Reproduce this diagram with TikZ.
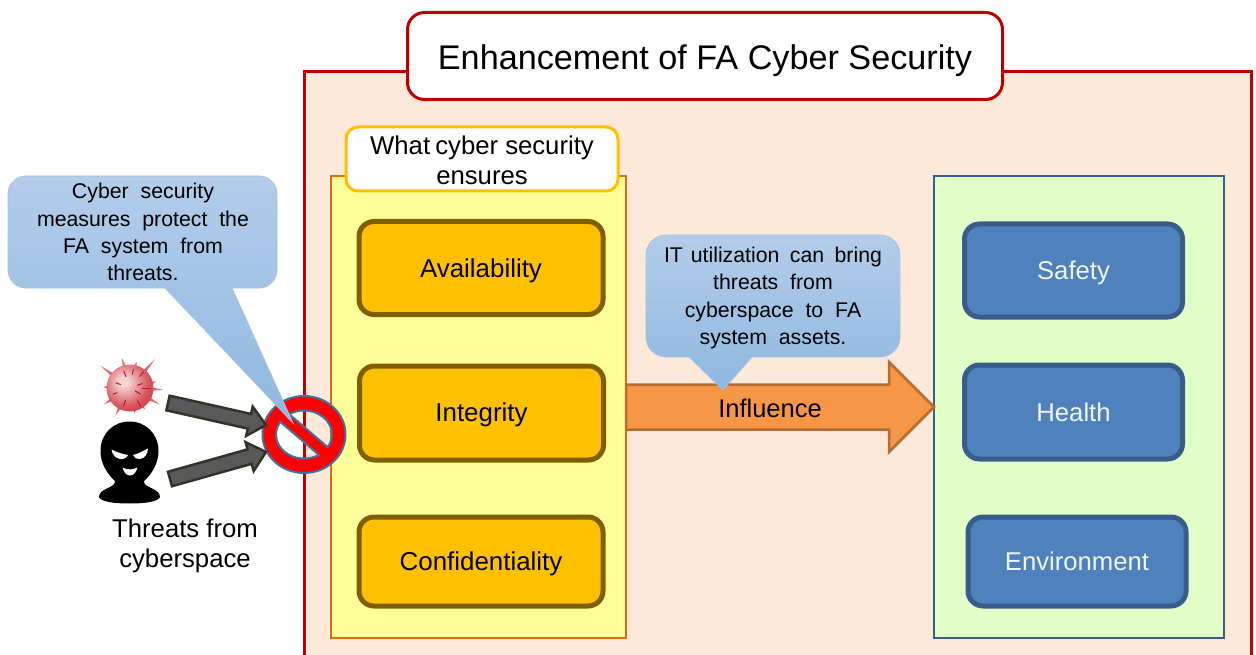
\documentclass[tikz,border=0pt]{standalone}
\usepackage{fontspec}
\setmainfont{Liberation Sans}
\newfontfamily\widefont[WordSpace=2.0]{Liberation Sans}
\usetikzlibrary{calc,shapes.geometric}
\newcommand\nudgetext[2]{\raisebox{-#1}[\height][\depth]{#2}}
\definecolor{framered}{HTML}{C00000}
\definecolor{peach}{HTML}{FDE9D9}
\definecolor{panelyellow}{HTML}{FFFF99}
\definecolor{panelorange}{HTML}{E36C0A}
\definecolor{gold}{HTML}{FFC000}
\definecolor{golddark}{HTML}{7F6000}
\definecolor{panelgreen}{HTML}{E3FFC8}
\definecolor{panelblue}{HTML}{376092}
\definecolor{boxblue}{HTML}{4F81BD}
\definecolor{boxbluedark}{HTML}{385D8A}
\definecolor{arroworange}{HTML}{F79646}
\definecolor{arroworangedark}{HTML}{B66D31}
\definecolor{calloutlight}{HTML}{B3CDEA}
\definecolor{calloutdark}{HTML}{8FB7E0}
\definecolor{calloutline}{HTML}{A5C2E4}
\definecolor{nogo}{HTML}{FF0000}
\definecolor{nogoline}{HTML}{41719C}
\definecolor{threatfill}{HTML}{595959}
\definecolor{threatline}{HTML}{33332A}
\definecolor{virusred}{HTML}{CC2430}
\definecolor{viruslight}{HTML}{F6D4D4}
\definecolor{spike}{HTML}{DC6A72}
\pgfdeclareradialshading{virusball}{\pgfpoint{-7bp}{7bp}}{color(0bp)=(viruslight);color(5bp)=(viruslight);color(24bp)=(virusred!70!viruslight);color(42bp)=(virusred);color(100bp)=(virusred)}
\tikzset{
  x=1pt,y=-1pt,
  every node/.style={inner sep=0pt,outer sep=0pt},
  titlebox/.style={draw=framered,line width=3pt,fill=white,rounded corners=17pt,minimum width=595pt,minimum height=87pt,font=\fontsize{34.2}{40}\selectfont},
  whatbox/.style={draw=gold,line width=3pt,fill=white,rounded corners=12pt,minimum width=272pt,minimum height=64pt},
  goldbox/.style={draw=golddark,line width=5pt,fill=gold,rounded corners=15pt,minimum width=244pt,font=\fontsize{25.9}{30}\selectfont},
  bluebox/.style={draw=boxbluedark,line width=5pt,fill=boxblue,rounded corners=15pt,minimum width=218pt,text=white!92!boxblue,font=\fontsize{25.7}{30}\selectfont},
  panelbox/.style={line width=2.5pt,minimum height=462pt},
  bodytext/.style={align=center,font=\fontsize{25.7}{30.5}\selectfont},
  callouttext/.style={align=center,font=\fontsize{21.3}{27.2}\selectfont\widefont},
  calloutshape/.style={draw=calloutline,line width=0.8pt,top color=calloutlight,bottom color=calloutdark},
  blockarrow/.style n args={3}{to path={
    ($(\tikztostart)!#1!90:(\tikztotarget)$)
    -- ($(\tikztotarget)!#2!(\tikztostart)!#1!90:(\tikztotarget)$)
    -- ($(\tikztotarget)!#2!(\tikztostart)!#3!90:(\tikztotarget)$)
    -- (\tikztotarget)
    -- ($(\tikztotarget)!#2!(\tikztostart)!#3!-90:(\tikztotarget)$)
    -- ($(\tikztotarget)!#2!(\tikztostart)!#1!-90:(\tikztotarget)$)
    -- ($(\tikztostart)!#1!-90:(\tikztotarget)$) -- cycle}},
  threatarrow/.style={draw=threatline,fill=threatfill,line width=2.5pt,line join=miter,blockarrow={7.5pt}{17pt}{15pt}},
  influencearrow/.style={draw=arroworangedark,fill=arroworange,line width=2.5pt,line join=miter,blockarrow={22.5pt}{45pt}{45pt}},
}
\begin{document}
\begin{tikzpicture}
\useasboundingbox (0,0) rectangle (1256,655);
% outer panel, running off the bottom of the page
\path[fill=peach] (304,72) rectangle (1251,655);
\draw[framered,line width=3pt] (304,655) -- (304,72) -- (1251,72) -- (1251,655);
\node[titlebox] (title) at (705,56) {\nudgetext{5pt}{Enhancement of FA Cyber Security}};
% left panel
\node[panelbox,draw=panelorange,fill=panelyellow,minimum width=295pt] (ensure) at (478.5,407) {};
\node[whatbox] (what) at (482,159) {};
\node[bodytext] (whatlabel) at (482,160.5) {What\hspace{-2pt} cyber security\\ensures};
\node[goldbox,minimum height=93pt] (avail) at (481,268) {\nudgetext{3pt}{Availability}};
\node[goldbox,minimum height=94pt] (integ) at (481.5,413) {\nudgetext{2pt}{Integrity}};
\node[goldbox,minimum height=89pt] (conf) at (481,561.5) {\nudgetext{2pt}{Confidentiality}};
% right panel
\node[panelbox,draw=panelblue,fill=panelgreen,minimum width=290pt] (impact) at (1079,407) {};
\node[bluebox,minimum height=93pt] (safety) at (1073.5,270.5) {\nudgetext{2pt}{Safety}};
\node[bluebox,minimum height=94pt] (health) at (1073.5,412) {Health};
\node[bluebox,minimum height=89pt] (env) at (1077,561.5) {Environment};
% influence arrow
\draw[influencearrow] (ensure.east) to (impact.west);
\node[font=\fontsize{25.5}{30}\selectfont] (influence) at (770,408) {Influence};
% right callout
\draw[calloutshape] (666,235) -- (880,235) arc[start angle=90,end angle=0,radius=20pt]
  -- (900,337) arc[start angle=0,end angle=-90,radius=20pt] -- (752,357) -- (723,390) -- (689,357)
  -- (666,357) arc[start angle=270,end angle=180,radius=20pt] -- (646,255) arc[start angle=180,end angle=90,radius=20pt] -- cycle;
\node[callouttext] (calloutb) at (773,298) {IT\hspace{-4pt} utilization\hspace{-1.5pt} can\hspace{-1.5pt} bring\\threats from\\cyberspace to FA\\system assets.};
% threats
\coordinate (v) at (130,388);
\foreach \a/\l in {143/37,105/31,76/27,49/38,14/27,-3/33,-29/34,-55/26,-79/26,-118/31,-148/31,178/27}{
  \fill[spike] ($(v)+(\a-5:21pt)$) -- ($(v)+(\a:\l pt)$) -- ($(v)+(\a+5:21pt)$) -- cycle;
}
\shade[shading=virusball] (v) circle[radius=23.5pt];
\foreach \a/\r/\l in {20/8/5,50/15/6,80/14/5,110/12/6,160/10/5,200/14/4,250/13/6,300/15/6,330/6/6,0/12/8}{
  \draw[virusred!80!black,line width=1pt,line cap=round] ($(v)+(\a:\r pt)$) -- ($(v)+(\a:\r pt+\l pt)$);
}
\fill[black] (129.5,421.5) .. controls (113,421.5) and (100.5,434) .. (100.5,451)
  .. controls (100.5,463) and (107,474) .. (115,481)
  .. controls (116,488) and (99,488) .. (99,497)
  .. controls (101,502) and (115,503.5) .. (129.5,503.5)
  .. controls (144,503.5) and (158,502) .. (160,497)
  .. controls (160,488) and (143,488) .. (144,481)
  .. controls (152,474) and (158.5,463) .. (158.5,451)
  .. controls (158.5,434) and (146,421.5) .. (129.5,421.5) -- cycle;
\fill[white] (111.5,449.5) .. controls (116,452) and (122,454) .. (128,455) .. controls (127,458) and (123,459.5) .. (120,459) .. controls (115,458) and (112,454) .. (111.5,449.5) -- cycle;
\fill[white] (148,448.5) .. controls (143,451) and (138,454) .. (133,455) .. controls (134,458) and (137,459.5) .. (140,459) .. controls (145,458) and (147.5,454) .. (148,448.5) -- cycle;
\fill[white] (122.5,467.5) .. controls (127,470) and (133,470) .. (137.5,467.5) .. controls (136,473) and (133,475.5) .. (130,475.5) .. controls (127,475.5) and (124,473) .. (122.5,467.5) -- cycle;
\node[bodytext] (threats) at (185,546) {Threats from\\cyberspace};
% prohibition sign
\node[ellipse,minimum width=83pt,minimum height=77pt] (nosign) at (304,434.5) {};
\draw[nogoline,fill=nogo,line width=2pt,even odd rule]
  (345.5,434.5) arc[start angle=0,end angle=360,x radius=41.5pt,y radius=38.5pt]
  ({304+28*cos(-32)},{434.5-24*sin(-32)}) arc[start angle=-32,end angle=122,x radius=28pt,y radius=24pt] -- cycle
  ({304+28*cos(148)},{434.5-24*sin(148)}) arc[start angle=148,end angle=302,x radius=28pt,y radius=24pt] -- cycle;
\coordinate (tailA) at (168,403);
\coordinate (tailB) at (170,479);
\coordinate (tipA) at (266,425);
\coordinate (tipB) at (266,452);
\draw[threatarrow] (tailA) to (tipA);
\draw[threatarrow] (tailB) to (tipB);
% left callout
\draw[calloutshape] (26,176) -- (259,176) arc[start angle=90,end angle=0,radius=18pt]
  -- (277,270) arc[start angle=0,end angle=-90,radius=18pt] -- (232,288) -- (293,423) -- (165,288)
  -- (26,288) arc[start angle=270,end angle=180,radius=18pt] -- (8,194) arc[start angle=180,end angle=90,radius=18pt] -- cycle;
\node[callouttext] (callouta) at (143,232) {Cyber security\\measures protect the\\FA system from\\threats.};
\end{tikzpicture}
\end{document}
